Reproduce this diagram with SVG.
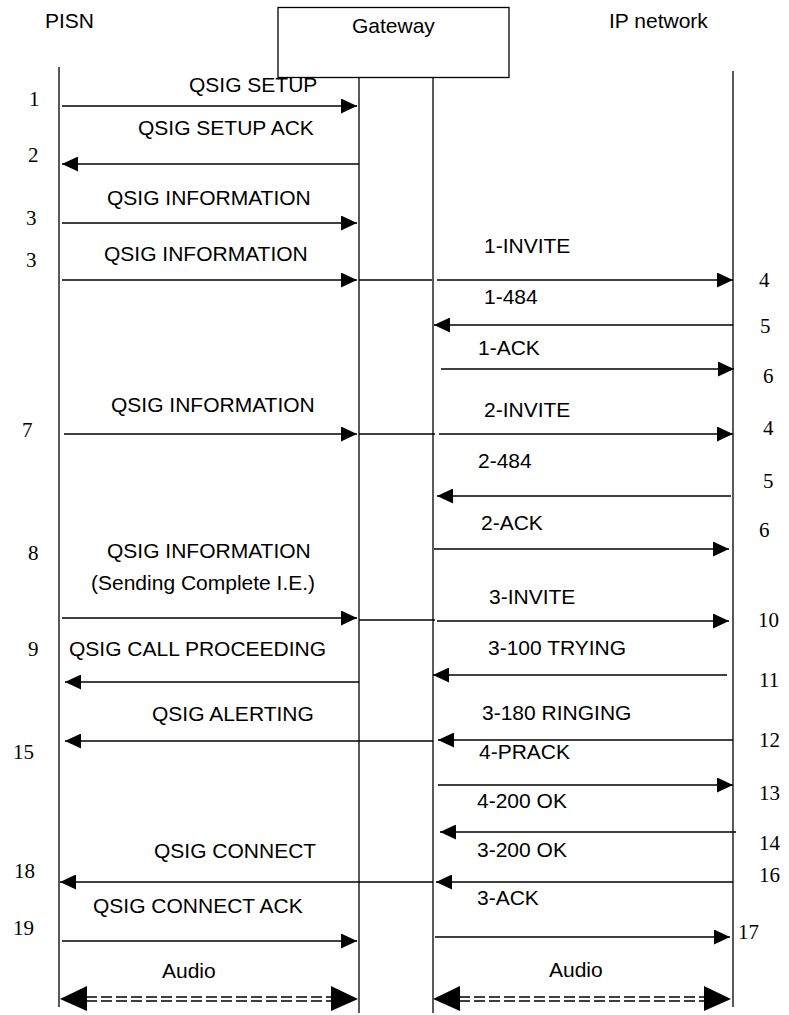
<svg xmlns="http://www.w3.org/2000/svg" width="789" height="1015" viewBox="0 0 789 1015">
<style>
.lbl{font-family:"Liberation Sans",Arial,sans-serif;font-size:21px;fill:#000}
.num{font-family:"Liberation Serif","Times New Roman",serif;font-size:21px;fill:#000}
.life{stroke:#000;stroke-width:1.3;fill:none}
.msg{stroke:#000;stroke-width:1.7;fill:none}
.arr{stroke:#000;stroke-width:1.7;fill:none;marker-end:url(#ah)}
.dash{stroke:#000;stroke-width:1.4;stroke-dasharray:11 4;fill:none}
.big{fill:#000}
</style>
<defs>
<marker id="ah" viewBox="0 0 16 15" refX="16" refY="7.5" markerWidth="16" markerHeight="15" markerUnits="userSpaceOnUse" orient="auto">
<path d="M0,0 L16,7.5 L0,15 z" fill="#000"/>
</marker>
</defs>
<rect width="789" height="1015" fill="#fff"/>

<g id="pisn">
<text class="lbl" x="45" y="28">PISN</text>
<line class="life" x1="59" y1="67" x2="59" y2="1007"/>
</g>
<g id="gateway">
<rect x="278" y="7.5" width="231" height="70" fill="none" stroke="#000" stroke-width="1.3"/>
<text class="lbl" x="352" y="33">Gateway</text>
<line class="life" x1="359" y1="77.5" x2="359" y2="1013"/>
<line class="life" x1="433" y1="77.5" x2="433" y2="1013"/>
</g>
<g id="ipnetwork">
<text class="lbl" x="609" y="28">IP network</text>
<line class="life" x1="733" y1="71" x2="733" y2="1007"/>
</g>

<g id="connectors">
<line class="arr" x1="62" y1="106" x2="357" y2="106"/>
<line class="arr" x1="359" y1="164" x2="62" y2="164"/>
<line class="arr" x1="62" y1="223" x2="357" y2="223"/>
<line class="arr" x1="62" y1="280" x2="357" y2="280"/>
<line class="msg" x1="359" y1="280" x2="432" y2="280"/>
<line class="arr" x1="437" y1="280" x2="733" y2="280"/>
<line class="arr" x1="733" y1="325" x2="434" y2="325"/>
<line class="arr" x1="441" y1="369" x2="734" y2="369"/>
<line class="arr" x1="64" y1="434" x2="357" y2="434"/>
<line class="msg" x1="359" y1="434" x2="435" y2="434"/>
<line class="arr" x1="439" y1="434" x2="733" y2="434"/>
<line class="arr" x1="731" y1="496" x2="437" y2="496"/>
<line class="arr" x1="434" y1="549" x2="729" y2="549"/>
<line class="arr" x1="62" y1="618" x2="357" y2="618"/>
<line class="msg" x1="359" y1="620" x2="435" y2="620"/>
<line class="arr" x1="437" y1="621" x2="729" y2="621"/>
<line class="arr" x1="359" y1="682" x2="65" y2="682"/>
<line class="arr" x1="727" y1="675" x2="433" y2="675"/>
<line class="arr" x1="433" y1="741" x2="65" y2="741"/>
<line class="arr" x1="733" y1="740" x2="438" y2="740"/>
<line class="arr" x1="438" y1="785" x2="733" y2="785"/>
<line class="arr" x1="736" y1="832" x2="440" y2="832"/>
<line class="arr" x1="433" y1="882" x2="60" y2="882"/>
<line class="arr" x1="733" y1="882" x2="436" y2="882"/>
<line class="arr" x1="62" y1="941" x2="357" y2="941"/>
<line class="arr" x1="435" y1="937" x2="730" y2="937"/>
<line class="dash" x1="86" y1="997" x2="332" y2="997"/>
<line class="dash" x1="86" y1="1001" x2="332" y2="1001"/>
<polygon class="big" points="60,999 87,986 87,1011"/>
<polygon class="big" points="358,999 331,986 331,1011"/>
<line class="dash" x1="459" y1="997" x2="705" y2="997"/>
<line class="dash" x1="459" y1="1001" x2="705" y2="1001"/>
<polygon class="big" points="433,999 460,986 460,1011"/>
<polygon class="big" points="731,999 704,986 704,1011"/>
</g>

<g id="labels">
<text class="lbl" x="189" y="92">QSIG SETUP</text>
<text class="lbl" x="138" y="135">QSIG SETUP ACK</text>
<text class="lbl" x="107" y="205">QSIG INFORMATION</text>
<text class="lbl" x="104" y="261">QSIG INFORMATION</text>
<text class="lbl" x="484" y="253">1-INVITE</text>
<text class="lbl" x="484" y="304">1-484</text>
<text class="lbl" x="478" y="355">1-ACK</text>
<text class="lbl" x="111" y="412">QSIG INFORMATION</text>
<text class="lbl" x="484" y="417">2-INVITE</text>
<text class="lbl" x="478" y="468">2-484</text>
<text class="lbl" x="481" y="530">2-ACK</text>
<text class="lbl" x="107" y="558">QSIG INFORMATION</text>
<text class="lbl" x="91" y="590">(Sending Complete I.E.)</text>
<text class="lbl" x="489" y="604">3-INVITE</text>
<text class="lbl" x="69" y="656">QSIG CALL PROCEEDING</text>
<text class="lbl" x="488" y="655">3-100 TRYING</text>
<text class="lbl" x="152" y="721">QSIG ALERTING</text>
<text class="lbl" x="482" y="720">3-180 RINGING</text>
<text class="lbl" x="479" y="759">4-PRACK</text>
<text class="lbl" x="477" y="808">4-200 OK</text>
<text class="lbl" x="154" y="858">QSIG CONNECT</text>
<text class="lbl" x="477" y="857">3-200 OK</text>
<text class="lbl" x="477" y="905">3-ACK</text>
<text class="lbl" x="93" y="913">QSIG CONNECT ACK</text>
<text class="lbl" x="162" y="978">Audio</text>
<text class="lbl" x="549" y="977">Audio</text>
</g>

<g id="numbers">
<text class="num" x="29" y="106">1</text>
<text class="num" x="28" y="162">2</text>
<text class="num" x="26" y="225">3</text>
<text class="num" x="26" y="267">3</text>
<text class="num" x="759" y="287">4</text>
<text class="num" x="760" y="333">5</text>
<text class="num" x="763" y="383">6</text>
<text class="num" x="22" y="437">7</text>
<text class="num" x="763" y="435">4</text>
<text class="num" x="763" y="488">5</text>
<text class="num" x="759" y="537">6</text>
<text class="num" x="28" y="560">8</text>
<text class="num" x="758" y="627">10</text>
<text class="num" x="28" y="656">9</text>
<text class="num" x="759" y="687">11</text>
<text class="num" x="13" y="759">15</text>
<text class="num" x="759" y="747">12</text>
<text class="num" x="759" y="800">13</text>
<text class="num" x="759" y="850">14</text>
<text class="num" x="14" y="878">18</text>
<text class="num" x="759" y="882">16</text>
<text class="num" x="13" y="935">19</text>
<text class="num" x="738" y="939">17</text>
</g>
</svg>
